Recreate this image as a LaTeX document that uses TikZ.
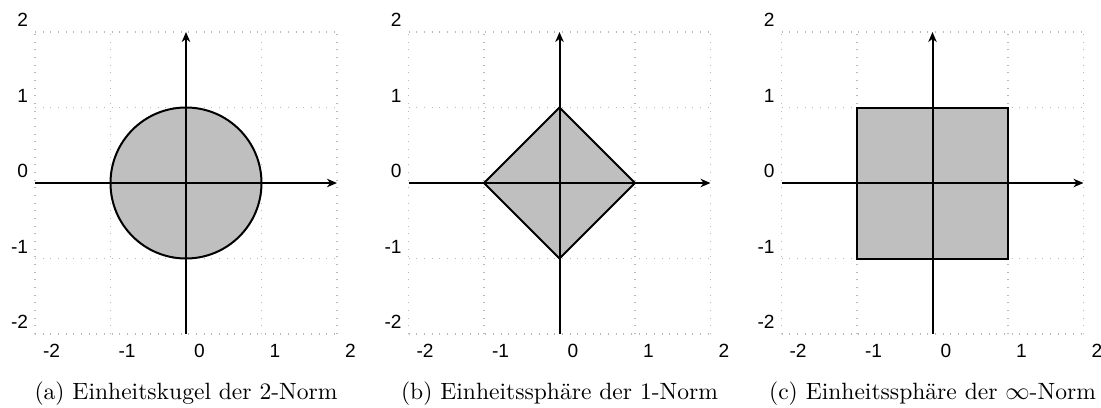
\documentclass[tikz,border=0pt]{standalone}
\usepackage{fontspec}
\newfontfamily\tickfont{Liberation Sans}
\usetikzlibrary{arrows.meta}
\tikzset{
  gridline/.style={gray!55, line width=0.5pt, dash pattern=on 0.5pt off 2.95pt},
  axisline/.style={line width=0.9pt, -{Stealth[length=4.5pt,width=3.8pt,inset=1.4pt]}},
  unitset/.style={fill=lightgray, draw=black, line width=0.9pt, line join=miter},
  xtick/.style={anchor=north west, inner sep=0pt, xshift=3.4pt, yshift=-4.5pt, font=\tickfont\fontsize{8.6}{10}\selectfont},
  ytick/.style={anchor=south east, inner sep=0pt, xshift=-2.9pt, yshift=2.25pt, font=\tickfont\fontsize{8.6}{10}\selectfont},
  capnode/.style={anchor=base, inner sep=0pt, font=\fontsize{10.6}{13}\selectfont},
  panel/.style={x=33.975pt, y=33.975pt}
}
\newcommand{\normgrid}{\draw[gridline] (-2,-2) grid[step={(1,1)}] (2,2);}
\newcommand{\normaxes}[1]{%
  \coordinate (#1-w) at (-2,0);
  \coordinate (#1-e) at (2,0);
  \coordinate (#1-s) at (0,-2);
  \coordinate (#1-n) at (0,2);
  \draw[axisline] (#1-w) -- (#1-e);
  \draw[axisline] (#1-s) -- (#1-n);
  \foreach \i in {-2,...,2} {
    \node[xtick] (#1-xl\i) at (\i,-2) {\i};
    \node[ytick] (#1-yl\i) at (-2,\i) {\i};
  }
}
\begin{document}
\begin{tikzpicture}
\useasboundingbox (0,0) rectangle (495.45pt,183.15pt);

\begin{scope}[shift={(83.7pt,100.8pt)}, panel]
  \normgrid
  \draw[unitset] (0,0) circle[radius=1];
  \normaxes{a}
  \node[capnode] (a-cap) at (0,-97.5pt) {(a) Einheitskugel der 2-Norm};
\end{scope}

\begin{scope}[shift={(251.775pt,100.8pt)}, panel]
  \normgrid
  \draw[unitset] (1,0) -- (0,1) -- (-1,0) -- (0,-1) -- cycle;
  \normaxes{b}
  \node[capnode] (b-cap) at (0,-97.5pt) {(b) Einheitssphäre der 1-Norm};
\end{scope}

\begin{scope}[shift={(419.625pt,100.8pt)}, panel]
  \normgrid
  \draw[unitset] (-1,-1) rectangle (1,1);
  \normaxes{c}
  \node[capnode] (c-cap) at (0,-97.5pt) {(c) Einheitssphäre der $\infty$-Norm};
\end{scope}
\end{tikzpicture}
\end{document}
